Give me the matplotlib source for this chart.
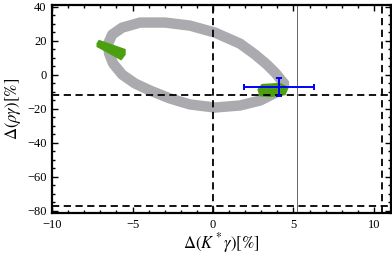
import matplotlib
matplotlib.use("Agg")
from matplotlib import pyplot as plt
from matplotlib.ticker import MultipleLocator

# centre line of the grey scan band
band_x = [4.41, 3.91, 3.35, 2.61, 1.68, 0.12, -1.43, -2.98, -4.53, -5.65,
          -6.27, -6.52, -6.46, -6.21, -5.65, -4.84, -3.91, -2.67, -1.43,
          0.12, 1.68, 2.92, 3.91, 4.41]
band_y = [-5.3, 0.6, 5.9, 11.8, 18.2, 24.7, 28.8, 30.6, 30.6, 27.6,
          23.5, 18.2, 12.4, 6.5, 0.0, -5.3, -9.4, -14.1, -17.6,
          -19.4, -18.2, -15.3, -10.6, -5.3]

# green allowed regions
green_left_x = [-7.20, -7.08, -5.47, -5.47, -5.71, -7.20]
green_left_y = [18.2, 20.0, 14.7, 11.8, 8.8, 16.5]
green_right_x = [2.80, 3.04, 4.16, 4.66, 4.47, 3.54, 2.92]
green_right_y = [-8.8, -5.9, -5.3, -7.6, -11.8, -12.9, -12.4]

# measurement with error bars
meas_x, meas_y = 4.1, -7.6
meas_xerr, meas_yerr = 2.2, 5.3

# reference lines
dashed_v = [0.0, 10.5]
dashed_h = [-11.8, -77.5]
thin_v = 5.2

plt.rcParams["font.family"] = "Liberation Serif"
plt.rcParams["mathtext.fontset"] = "stix"

fig = plt.figure(figsize=(3.92, 2.57), dpi=100)
ax = fig.add_axes([0.133, 0.171, 0.864, 0.81])

ax.plot(band_x, band_y, color="#ababaf", lw=7.5, solid_capstyle="round",
        solid_joinstyle="round", zorder=2)
ax.fill(green_left_x, green_left_y, color="#4ca010", zorder=3)
ax.fill(green_right_x, green_right_y, color="#4ca010", zorder=3)

for xv in dashed_v:
    ax.axvline(xv, color="black", lw=1.3, ls=(0, (4, 2.5)), zorder=4)
for yv in dashed_h:
    ax.axhline(yv, color="black", lw=1.3, ls=(0, (4, 2.5)), zorder=4)
ax.axvline(thin_v, color="#666666", lw=0.7, zorder=1)

ax.errorbar(meas_x, meas_y, xerr=meas_xerr, yerr=meas_yerr, color="#0000ff",
            lw=1.4, capsize=2.5, capthick=1.4, fmt="none", zorder=5)

ax.set_xlim(-10, 11.05)
ax.set_ylim(-81.5, 41)
ax.xaxis.set_major_locator(MultipleLocator(5))
ax.xaxis.set_minor_locator(MultipleLocator(1))
ax.yaxis.set_major_locator(MultipleLocator(20))
ax.yaxis.set_minor_locator(MultipleLocator(5))
ax.tick_params(which="both", direction="in", top=True, right=True,
               labelsize=9, width=1.0, pad=4)
ax.tick_params(which="major", length=4)
ax.tick_params(which="minor", length=2)
for s in ax.spines.values():
    s.set_linewidth(1.6)

ax.set_xlabel(r"$\Delta(K^*\gamma)[\%]$", fontsize=12, labelpad=0)
ax.set_ylabel(r"$\Delta(\rho\gamma)[\%]$", fontsize=12, labelpad=3)

plt.savefig("out.png")
